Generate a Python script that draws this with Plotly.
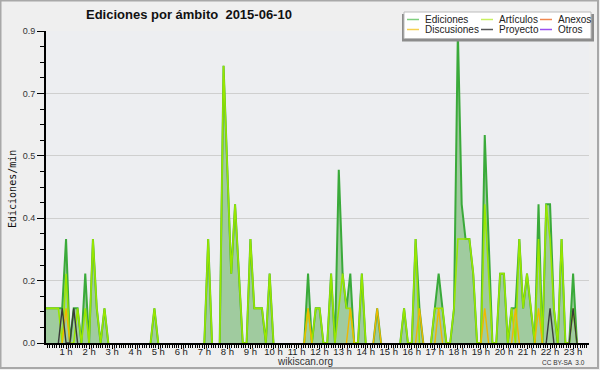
import plotly.graph_objects as go

# ---- data: 10-minute slots over the day (144 values each) ----
ediciones = [
    0.1, 0.1, 0.1, 0.1, 0.1, 0.1,   # 0h
    0.3, 0.0, 0.1, 0.1, 0.0, 0.2,   # 1h
    0.0, 0.3, 0.1, 0.0, 0.1, 0.0,   # 2h
    0.0, 0.0, 0.0, 0.0, 0.0, 0.0,   # 3h
    0.0, 0.0, 0.0, 0.0, 0.0, 0.1,   # 4h
    0.0, 0.0, 0.0, 0.0, 0.0, 0.0,   # 5h
    0.0, 0.0, 0.0, 0.0, 0.0, 0.0,   # 6h
    0.0, 0.3, 0.0, 0.0, 0.0, 0.8,   # 7h
    0.5, 0.2, 0.4, 0.2, 0.0, 0.0,   # 8h
    0.3, 0.1, 0.1, 0.1, 0.0, 0.2,   # 9h
    0.0, 0.0, 0.0, 0.0, 0.0, 0.0,   # 10h
    0.0, 0.0, 0.0, 0.2, 0.0, 0.1,   # 11h
    0.1, 0.0, 0.0, 0.2, 0.0, 0.5,   # 12h
    0.2, 0.1, 0.2, 0.0, 0.0, 0.2,   # 13h
    0.0, 0.0, 0.0, 0.1, 0.0, 0.0,   # 14h
    0.0, 0.0, 0.0, 0.0, 0.1, 0.0,   # 15h
    0.0, 0.3, 0.1, 0.0, 0.0, 0.0,   # 16h
    0.1, 0.2, 0.1, 0.0, 0.0, 0.1,   # 17h
    0.9, 0.4, 0.3, 0.3, 0.2, 0.0,   # 18h
    0.0, 0.6, 0.3, 0.0, 0.0, 0.2,   # 19h
    0.2, 0.0, 0.1, 0.1, 0.3, 0.1,   # 20h
    0.2, 0.1, 0.0, 0.4, 0.0, 0.4,   # 21h
    0.4, 0.1, 0.0, 0.3, 0.0, 0.0,   # 22h
    0.2, 0.0, 0.0, 0.0, 0.0, 0.0,   # 23h
]
articulos = [
    0.1, 0.1, 0.1, 0.1, 0.1, 0.0,
    0.2, 0.0, 0.0, 0.1, 0.0, 0.1,
    0.0, 0.3, 0.1, 0.0, 0.1, 0.0,
    0.0, 0.0, 0.0, 0.0, 0.0, 0.0,
    0.0, 0.0, 0.0, 0.0, 0.0, 0.1,
    0.0, 0.0, 0.0, 0.0, 0.0, 0.0,
    0.0, 0.0, 0.0, 0.0, 0.0, 0.0,
    0.0, 0.3, 0.0, 0.0, 0.0, 0.8,
    0.5, 0.2, 0.4, 0.2, 0.0, 0.0,
    0.3, 0.1, 0.1, 0.1, 0.0, 0.2,
    0.0, 0.0, 0.0, 0.0, 0.0, 0.0,
    0.0, 0.0, 0.0, 0.1, 0.0, 0.1,
    0.1, 0.0, 0.0, 0.2, 0.0, 0.1,
    0.2, 0.1, 0.1, 0.0, 0.0, 0.2,
    0.0, 0.0, 0.0, 0.0, 0.0, 0.0,
    0.0, 0.0, 0.0, 0.0, 0.1, 0.0,
    0.0, 0.3, 0.0, 0.0, 0.0, 0.0,
    0.1, 0.1, 0.1, 0.0, 0.0, 0.1,
    0.3, 0.3, 0.3, 0.3, 0.2, 0.0,
    0.0, 0.4, 0.2, 0.0, 0.0, 0.2,
    0.2, 0.0, 0.1, 0.0, 0.3, 0.1,
    0.2, 0.1, 0.0, 0.3, 0.0, 0.4,
    0.3, 0.1, 0.0, 0.3, 0.0, 0.0,
    0.1, 0.0, 0.0, 0.0, 0.0, 0.0,
]
anexos = [0.0] * 144
discusiones_nonzero = {6: 0.1, 69: 0.1, 80: 0.1, 87: 0.1, 98: 0.1,
                       103: 0.1, 115: 0.1, 123: 0.1, 129: 0.1}
proyecto_nonzero = {5: 0.1, 8: 0.1, 132: 0.1, 138: 0.1}
otros = [0.0] * 144
discusiones = [discusiones_nonzero.get(i, 0.0) for i in range(144)]
proyecto = [proyecto_nonzero.get(i, 0.0) for i in range(144)]

hours = [i / 6 for i in range(144)]
hour_ticks = list(range(1, 24))
hour_labels = [f"{h} h" for h in hour_ticks]
y_tickvals = [0, 0.18, 0.36, 0.54, 0.72, 0.9]
y_ticktext = ["0.0", "0.2", "0.4", "0.5", "0.7", "0.9"]

series = [
    ("Ediciones", ediciones, "#3aaa3a", "#7fcf7f"),
    ("Artículos", articulos, "#98e600", "#c8f060"),
    ("Anexos", anexos, "#f07840", "#f08850"),
    ("Discusiones", discusiones, "#f0b800", "#f5d050"),
    ("Proyecto", proyecto, "#3a3a3a", "#555555"),
    ("Otros", otros, "#9040f0", "#9a50f0"),
]


def shown(vals):
    # hide long runs of zeros so the baseline stays clean
    out = []
    n = len(vals)
    for i, v in enumerate(vals):
        prev = vals[i - 1] if i > 0 else 0
        nxt = vals[i + 1] if i < n - 1 else 0
        out.append(v if (v != 0 or prev != 0 or nxt != 0) else None)
    return out


fig = go.Figure()
for k, (name, vals, col, _) in enumerate(series):
    if k == 0:
        fig.add_trace(go.Scatter(x=hours, y=shown(vals), mode="lines", name=name,
                                 line=dict(color=col, width=2),
                                 fill="tozeroy", fillcolor="#a0cb9f",
                                 connectgaps=False, showlegend=False))
    else:
        fig.add_trace(go.Scatter(x=hours, y=shown(vals), mode="lines", name=name,
                                 line=dict(color=col, width=1.6 if k == 1 else 1.4),
                                 connectgaps=False, showlegend=False))

L, R, T, B = 46, 11, 31, 27
W, H = 600, 370
pw, ph = W - L - R, H - T - B


def px(x):
    return (x - L) / pw


def py(y):
    return (H - B - y) / ph


SANS = "Liberation Sans"
shapes = []
annotations = []
# outer frame
shapes.append(dict(type="rect", xref="paper", yref="paper",
                   x0=px(0.5), x1=px(598), y0=py(0.5), y1=py(368),
                   line=dict(color="#a8a8a8", width=2), fillcolor="rgba(0,0,0,0)"))
# legend box with shadow
shapes.append(dict(type="rect", xref="paper", yref="paper",
                   x0=px(402), x1=px(594), y0=py(14), y1=py(41.5),
                   line=dict(width=0), fillcolor="#8c8c8c"))
shapes.append(dict(type="rect", xref="paper", yref="paper",
                   x0=px(404), x1=px(591), y0=py(12), y1=py(38.5),
                   line=dict(color="#bbbbbb", width=1), fillcolor="white"))
cols = [(407, 423), (481, 497), (540, 556)]
rows = [19.5, 29.5]
for k, (name, _, _, lcol) in enumerate(series):
    r, c = divmod(k, 3)
    lx, tx = cols[c]
    yy = rows[r]
    shapes.append(dict(type="line", xref="paper", yref="paper",
                       x0=px(lx), x1=px(lx + 12), y0=py(yy), y1=py(yy),
                       line=dict(color=lcol, width=1.5)))
    annotations.append(dict(text=name, xref="paper", yref="paper",
                            x=px(tx), y=py(yy), xanchor="left", yanchor="middle",
                            showarrow=False,
                            font=dict(family=SANS, size=10, color="#222")))

annotations.append(dict(text="Ediciones por ámbito \u00a02015-06-10", xref="paper", yref="paper",
                        x=px(188.5), y=py(14.5), xanchor="center", yanchor="middle",
                        showarrow=False,
                        font=dict(family=SANS, size=13, color="#111", weight="bold")))
annotations.append(dict(text="Ediciones/min", xref="paper", yref="paper",
                        x=px(12), y=py(189), xanchor="center", yanchor="middle",
                        textangle=-90, showarrow=False,
                        font=dict(family="DejaVu Sans Mono", size=10, color="#111")))
annotations.append(dict(text="wikiscan.org", xref="paper", yref="paper",
                        x=px(305), y=py(361.5), xanchor="center", yanchor="middle",
                        showarrow=False,
                        font=dict(family=SANS, size=10, color="#333")))
annotations.append(dict(text="CC BY-SA  3.0", xref="paper", yref="paper",
                        x=px(563), y=py(362), xanchor="center", yanchor="middle",
                        showarrow=False,
                        font=dict(family=SANS, size=6.5, color="#333")))

fig.update_layout(
    width=W, height=H,
    margin=dict(l=L, r=R, t=T, b=B, autoexpand=False),
    paper_bgcolor="#efefef",
    plot_bgcolor="#edeef1",
    showlegend=False,
    shapes=shapes,
    annotations=annotations,
    xaxis=dict(range=[0.13, 23.69], tickvals=hour_ticks, ticktext=hour_labels,
               tickangle=0, automargin=False, ticklabelstandoff=-5,
               ticks="outside", ticklen=4, tickwidth=1, tickcolor="black",
               showline=True, linecolor="black", linewidth=2,
               showgrid=False, zeroline=False,
               tickfont=dict(family=SANS, size=9.5, color="#222"),
               minor=dict(dtick=0.1, tick0=0, ticks="outside", ticklen=3,
                          tickcolor="black", tickwidth=1, showgrid=False)),
    yaxis=dict(range=[0, 0.9], tickvals=y_tickvals, ticktext=y_ticktext,
               automargin=False,
               ticks="outside", ticklen=7, tickwidth=1, tickcolor="black",
               showline=True, linecolor="black", linewidth=2,
               showgrid=True, gridcolor="#cfcfcf", gridwidth=1, zeroline=False,
               tickfont=dict(family=SANS, size=9, color="#333"),
               minor=dict(dtick=0.045, tick0=0, ticks="outside", ticklen=4,
                          tickcolor="black", tickwidth=1, showgrid=False)),
)

fig.write_html("out.html", config={"displayModeBar": False},
               post_script="document.body.style.margin='0';document.body.style.padding='0';")
